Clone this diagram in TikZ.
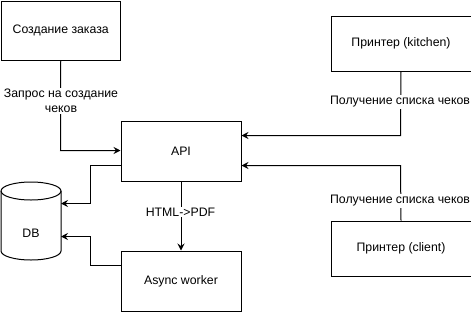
\documentclass[tikz,border=0pt]{standalone}
\usepackage{fontspec}
\setmainfont{Liberation Sans}
\usetikzlibrary{arrows.meta}
\begin{document}
\begin{tikzpicture}[x=1pt,y=-1pt,
  every node/.style={font=\fontsize{12.3}{14.8}\selectfont, inner sep=0pt},
  blk/.style={draw, line width=1pt, anchor=north west},
  link/.style={draw, line width=1pt, -{Stealth[length=7pt,width=7pt,inset=2.5pt]}},
  lbl/.style={fill=white, inner sep=1pt, align=center}]
  \useasboundingbox (0,0) rectangle (471,311);

  % blocks
  \node[blk, minimum width=119.5pt, minimum height=59.5pt] (order) at (0.5,0.5) {};
  \node at (order.center) {Создание заказа};
  \node[blk, minimum width=120pt, minimum height=60pt] (api) at (120.5,120.5) {};
  \node at (api.center) {API};
  \node[blk, minimum width=140pt, minimum height=55pt] (kitchen) at (330.5,15.5) {};
  \node at (kitchen.center) {Принтер (kitchen)};
  \node[blk, minimum width=140pt, minimum height=55pt] (client) at (330.5,220.5) {};
  \node at (client.center) {Принтер (client)};
  \node[blk, minimum width=120pt, minimum height=60pt] (worker) at (120.5,250.5) {};
  \node at (worker.center) {Async worker};

  % database cylinder
  \draw[line width=1pt, fill=white] (1,191) -- (1,251)
    arc[start angle=180, end angle=360, x radius=30, y radius=-9] -- (61,191)
    arc[start angle=0, end angle=180, x radius=30, y radius=-9] -- cycle;
  \draw[line width=1pt] (1,191) arc[start angle=180, end angle=360, x radius=30, y radius=-9];
  \node (db) at (31,233) {DB};
  \coordinate (dbin1) at (61,203.5);
  \coordinate (dbin2) at (61,236.5);

  % connectors
  \draw[link] (order.south) -- (60.5,150.5) -- (api.west |- 0,150.5);
  \node[lbl] at (61,101) {Запрос на создание\\чеков};

  \draw[link] (kitchen.south) -- (400.5,135.5) -- (api.east |- 0,135.5);
  \node[lbl] at (400,102) {Получение списка чеков};

  \draw[link] (client.north) -- (400.5,165.5) -- (api.east |- 0,165.5);
  \node[lbl] at (400,201) {Получение списка чеков};

  \draw[link] (api.south) -- (worker.north);
  \node[lbl] at (180.5,212) {HTML->PDF};

  \draw[link] (api.west |- 0,165.5) -- (90.5,165.5) -- (90.5,203.5) -- (dbin1);
  \draw[link] (worker.west |- 0,265.5) -- (90.5,265.5) -- (90.5,236.5) -- (dbin2);
\end{tikzpicture}
\end{document}
